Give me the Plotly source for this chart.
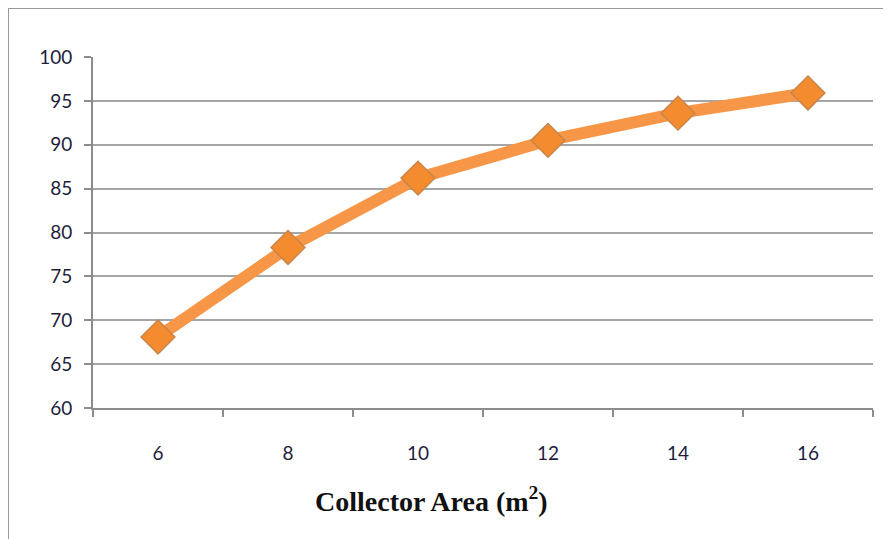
import plotly.graph_objects as go

categories = ["6", "8", "10", "12", "14", "16"]
values = [68.1, 78.3, 86.2, 90.5, 93.6, 95.9]
y_ticks = [60, 65, 70, 75, 80, 85, 90, 95, 100]

# page body has an 8px margin, so the figure starts at (8, 8) on screen
OFF = 8
W, H = 891 - OFF, 539 - OFF
L, T = 93 - OFF, 57 - OFF
R = W - (873 - OFF)
B = H - (408 - OFF)
pw, ph = W - L - R, H - T - B

def px_x(x):
    return (x - OFF - L) / pw

def px_y(y):
    return (H - B - (y - OFF)) / ph

fig = go.Figure()
fig.add_trace(go.Scatter(
    x=categories, y=values, mode="lines+markers",
    line=dict(color="#F79646", width=12),
    marker=dict(symbol="diamond", size=26, color="#F58B2F",
                line=dict(color="#C8854A", width=1.5)),
    showlegend=False, hoverinfo="x+y",
))

fig.update_layout(
    width=W, height=H,
    margin=dict(l=L, r=R, t=T, b=B),
    paper_bgcolor="white", plot_bgcolor="white",
    font=dict(family="Lato, Open Sans, sans-serif", size=19, color="#1e1e3c"),
    xaxis=dict(
        type="category", range=[-0.5, 5.5],
        showgrid=False, showline=True, linecolor="#8c8c8c", linewidth=2,
        ticks="outside", ticklen=7, tickcolor="#8c8c8c", tickwidth=1.5,
        tickson="boundaries", ticklabelstandoff=27,
        tickfont=dict(size=19, color="#1e1e3c"),
    ),
    yaxis=dict(
        range=[60, 100], tickvals=y_ticks,
        showgrid=True, gridcolor="#a6a6a6", gridwidth=2,
        showline=True, linecolor="#8c8c8c", linewidth=2,
        ticks="outside", ticklen=7, tickcolor="#8c8c8c", tickwidth=1.5,
        ticklabelstandoff=8, zeroline=False,
        tickfont=dict(size=19, color="#1e1e3c"),
    ),
    shapes=[dict(
        type="rect", xref="paper", yref="paper",
        x0=px_x(8), x1=px_x(905),
        y0=px_y(560), y1=px_y(8),
        line=dict(color="#9a9a9a", width=2), fillcolor="rgba(0,0,0,0)", layer="below",
    )],
    annotations=[dict(
        text="<b>Collector Area (m<sup>2</sup>)</b>",
        xref="paper", yref="paper",
        x=px_x(431), y=px_y(499),
        xanchor="center", yanchor="middle", showarrow=False,
        font=dict(family="Liberation Serif, Times New Roman, serif", size=28, color="#111111"),
    )],
)

fig.write_html("out.html")
